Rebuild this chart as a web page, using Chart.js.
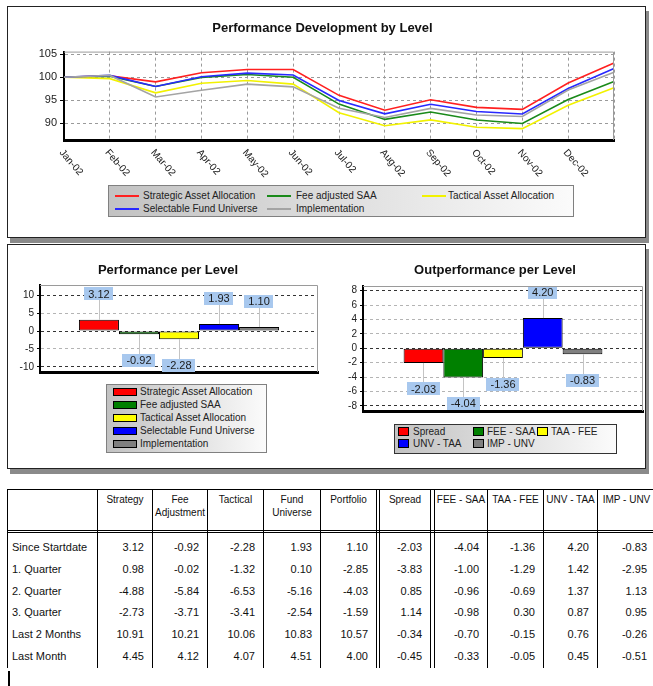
<!DOCTYPE html>
<html>
<head>
<meta charset="utf-8">
<script src="https://cdn.jsdelivr.net/npm/chart.js@4.4.1/dist/chart.umd.min.js"></script>
<style>
    html, body { margin: 0; padding: 0; background: #fff; }
    body { width: 653px; height: 686px; position: relative; overflow: hidden;
           font-family: "Liberation Sans", Arial, sans-serif; color: #111; }
    .panel { position: absolute; border: 1px solid #222; box-shadow: 3px 5px 0 #8a8a8a; background: #fff; }
    canvas { position: absolute; }
    .legend { position: absolute; border: 1px solid #808080;
              background: linear-gradient(to right, #c2c2c2, #fbfbfb); font-size: 10px; }
    .legend .txt { position: absolute; white-space: nowrap; line-height: 12px; color: #222; }
    .legend .sw { position: absolute; }
    .cell { position: absolute; white-space: nowrap; }
    .hd { font-size: 10px; line-height: 13px; text-align: center; }
    .num { font-size: 11px; line-height: 22px; text-align: right; }
    .lbl { font-size: 11px; line-height: 22px; text-align: left; }
    .ln { position: absolute; background: #000; }
</style>
</head>
<body>
<div class="panel" style="left:7px; top:6px; width:637px; height:230px;"></div>
<div class="panel" style="left:7px; top:244px; width:637px; height:223px;"></div>

<canvas id="devChart" width="653" height="240" style="left:0; top:0;"></canvas>
<canvas id="perfChart" width="330" height="140" style="left:0; top:244px;"></canvas>
<canvas id="outChart" width="323" height="180" style="left:330px; top:244px;"></canvas>

<div id="devLegend" class="legend" style="left:108px; top:185px; width:464px; height:30px;"></div>
<div id="perfLegend" class="legend" style="left:106px; top:384px; width:159px; height:67px;"></div>
<div id="outLegend" class="legend" style="left:394px; top:424px; width:221px; height:28px; border-color:#333;"></div>

<div id="table"></div>

<script>
// ---- data ----
const months = ['Jan-02', 'Feb-02', 'Mar-02', 'Apr-02', 'May-02', 'Jun-02', 'Jul-02', 'Aug-02', 'Sep-02', 'Oct-02', 'Nov-02', 'Dec-02', ''];
const levelNames = ['Strategic Asset Allocation', 'Fee adjusted SAA', 'Tactical Asset Allocation', 'Selectable Fund Universe', 'Implementation'];
const strategic = [100, 100.3, 99.0, 100.98, 101.7, 101.7, 96.05, 92.8, 95.1, 93.43, 92.98, 98.73, 103.12];
const feeAdjusted = [100, 100.2, 98.0, 99.98, 100.6, 100.0, 94.14, 90.8, 92.4, 90.65, 89.9, 95.16, 99.08];
const tactical = [100, 99.7, 96.6, 98.68, 99.3, 98.5, 92.24, 89.4, 90.7, 89.1, 88.79, 93.9, 97.72];
const fundUniverse = [100, 100.4, 98.0, 100.1, 100.9, 100.5, 94.93, 92.0, 94.1, 92.52, 91.97, 97.53, 101.93];
const implementation = [100, 100.4, 95.7, 97.15, 98.5, 97.9, 93.23, 91.2, 93.2, 91.75, 91.43, 97.21, 101.1];
const devTicks = [90, 95, 100, 105];

const perfValues = [3.12, -0.92, -2.28, 1.93, 1.10];
const perfTicks = [-10, -5, 0, 5, 10];

const spreadNames = ['Spread', 'FEE - SAA', 'TAA - FEE', 'UNV - TAA', 'IMP - UNV'];
const outValues = [-2.03, -4.04, -1.36, 4.20, -0.83];
const outTicks = [-8, -6, -4, -2, 0, 2, 4, 6, 8];

const tableColumns = ['Strategy', 'Fee\nAdjustment', 'Tactical', 'Fund\nUniverse', 'Portfolio', 'Spread', 'FEE - SAA', 'TAA - FEE', 'UNV - TAA', 'IMP - UNV'];
const tableRowLabels = ['Since Startdate', '1. Quarter', '2. Quarter', '3. Quarter', 'Last 2 Months', 'Last Month'];
const rowSince = perfValues.concat(outValues);
const rowQ1 = [0.98, -0.02, -1.32, 0.10, -2.85, -3.83, -1.00, -1.29, 1.42, -2.95];
const rowQ2 = [-4.88, -5.84, -6.53, -5.16, -4.03, 0.85, -0.96, -0.69, 1.37, 1.13];
const rowQ3 = [-2.73, -3.71, -3.41, -2.54, -1.59, 1.14, -0.98, 0.30, 0.87, 0.95];
const rowLast2 = [10.91, 10.21, 10.06, 10.83, 10.57, -0.34, -0.70, -0.15, 0.76, -0.26];
const rowLast1 = [4.45, 4.12, 4.07, 4.51, 4.00, -0.45, -0.33, -0.05, 0.45, -0.51];

const lineColors = ['#ff2020', '#1a8a1a', '#f2f200', '#2828ff', '#a4a4a4'];
const barColors = ['#ff0000', '#008000', '#ffff00', '#0000ff', '#808080'];

const FONT = '"Liberation Sans", Arial, sans-serif';
Chart.defaults.font.family = FONT;
Chart.defaults.color = '#222';

// light grey top/right frame of the plot area
const plotFrame = {
    id: 'plotFrame',
    afterDraw(chart) {
        const { ctx, chartArea: a } = chart;
        ctx.save();
        ctx.strokeStyle = '#9a9a9a';
        ctx.lineWidth = 1;
        ctx.beginPath();
        ctx.moveTo(a.left, a.top + 0.5);
        ctx.lineTo(a.right - 0.5, a.top + 0.5);
        ctx.lineTo(a.right - 0.5, a.bottom);
        ctx.stroke();
        ctx.restore();
    }
};

// month labels slanting down to the right
const slantedLabels = {
    id: 'slantedLabels',
    afterDraw(chart) {
        const { ctx, chartArea } = chart;
        const x = chart.scales.x;
        ctx.save();
        ctx.font = '10px ' + FONT;
        ctx.fillStyle = '#222';
        ctx.textAlign = 'left';
        ctx.textBaseline = 'middle';
        chart.data.labels.forEach((lbl, i) => {
            if (!lbl) return;
            ctx.save();
            ctx.translate(x.getPixelForValue(i) - 3, chartArea.bottom + 11);
            ctx.rotate(Math.PI / 4 + 0.07);
            ctx.fillText(lbl, 0, 0);
            ctx.restore();
        });
        ctx.restore();
    }
};

// blue value boxes with leader lines
const calloutLabels = {
    id: 'calloutLabels',
    afterDatasetsDraw(chart) {
        const ctx = chart.ctx;
        ctx.save();
        ctx.font = '11px ' + FONT;
        chart.data.datasets.forEach((ds, i) => {
            const bar = chart.getDatasetMeta(i).data[0];
            const v = ds.data[0];
            const ly = bar.y + (v >= 0 ? -26 : 26);
            ctx.strokeStyle = '#c4c4c4';
            ctx.lineWidth = 1;
            ctx.beginPath();
            ctx.moveTo(Math.round(bar.x) + 0.5, bar.y);
            ctx.lineTo(Math.round(bar.x) + 0.5, ly);
            ctx.stroke();
            const txt = v.toFixed(2);
            const w = ctx.measureText(txt).width + 8;
            const h = 13;
            ctx.fillStyle = '#a8c8ee';
            ctx.fillRect(Math.round(bar.x - w / 2), Math.round(ly - h / 2), Math.round(w), h);
            ctx.fillStyle = '#1a1a1a';
            ctx.textAlign = 'center';
            ctx.textBaseline = 'middle';
            ctx.fillText(txt, bar.x, ly + 1);
        });
        ctx.restore();
    }
};

// ---- Performance Development by Level ----
const devSeries = [strategic, feeAdjusted, tactical, fundUniverse, implementation];
new Chart(document.getElementById('devChart'), {
    type: 'line',
    data: {
        labels: months,
        datasets: levelNames.map((name, i) => ({
            label: name,
            data: devSeries[i],
            borderColor: lineColors[i],
            borderWidth: 1.6,
            pointRadius: 0,
            tension: 0,
            fill: false
        })).reverse()
    },
    options: {
        responsive: false,
        animation: false,
        layout: { padding: { left: 31, right: 39, top: 0, bottom: 100 } },
        plugins: {
            legend: { display: false },
            tooltip: { enabled: false },
            title: {
                display: true,
                text: 'Performance Development by Level',
                color: '#111',
                font: { size: 13, weight: 'bold' },
                padding: { top: 21, bottom: 15 }
            }
        },
        scales: {
            x: {
                offset: false,
                ticks: { display: false, autoSkip: false },
                grid: { color: '#9a9a9a', drawTicks: false },
                border: { color: '#000', width: 3, dash: [3, 3] },
                afterFit(s) { s.height = 0; }
            },
            y: {
                min: 86.3,
                max: 105.6,
                afterBuildTicks(s) { s.ticks = devTicks.map(v => ({ value: v })); },
                ticks: { font: { size: 11 }, padding: 3, color: '#222' },
                grid: { color: '#9a9a9a', tickLength: 4, tickColor: '#000' },
                border: { color: '#000', width: 2, dash: [3, 3] },
                afterFit(s) { s.width = 33; }
            }
        }
    },
    plugins: [plotFrame, slantedLabels]
});

// ---- bar charts ----
function barChart(id, title, names, values, ticks, min, max, pad, yWidth, catPct) {
    const major = [0, ticks[0], ticks[ticks.length - 1]];
    return new Chart(document.getElementById(id), {
        type: 'bar',
        data: {
            labels: [''],
            datasets: names.map((name, i) => ({
                label: name,
                data: [values[i]],
                backgroundColor: barColors[i],
                borderColor: '#000',
                borderWidth: 1,
                borderSkipped: false,
                barPercentage: 1,
                categoryPercentage: catPct
            }))
        },
        options: {
            responsive: false,
            animation: false,
            layout: { padding: pad },
            plugins: {
                legend: { display: false },
                tooltip: { enabled: false },
                title: {
                    display: true,
                    text: title,
                    color: '#111',
                    font: { size: 13, weight: 'bold' },
                    padding: { top: 19, bottom: pad.titleBottom }
                }
            },
            scales: {
                x: {
                    ticks: { display: false },
                    grid: { display: false },
                    border: { color: '#000', width: 3 },
                    afterFit(s) { s.height = 0; }
                },
                y: {
                    min: min,
                    max: max,
                    afterBuildTicks(s) { s.ticks = ticks.map(v => ({ value: v })); },
                    ticks: { font: { size: 10 }, padding: 3, color: '#222' },
                    grid: {
                        color: c => (c.tick && major.includes(c.tick.value)) ? '#333' : '#b4b4b4',
                        tickLength: 3,
                        tickColor: '#000'
                    },
                    border: { color: '#000', width: 2, dash: [3, 3] },
                    afterFit(s) { s.width = yWidth; }
                }
            }
        },
        plugins: [plotFrame, calloutLabels]
    });
}

barChart('perfChart', 'Performance per Level', levelNames, perfValues, perfTicks, -11.4, 12.8,
    { left: 18, right: 12, top: 0, bottom: 12, titleBottom: 6.4 }, 22, 0.72);
barChart('outChart', 'Outperformance per Level', spreadNames, outValues, outTicks, -8.7, 8.65,
    { left: 17, right: 10, top: 0, bottom: 13, titleBottom: 7.4 }, 16, 0.71);

// ---- legends ----
function addItem(box, swatch, text, sx, sy, sw, sh, tx) {
    const s = document.createElement('div');
    s.className = 'sw';
    Object.assign(s.style, swatch, { left: sx + 'px', top: sy + 'px', width: sw + 'px', height: sh + 'px' });
    box.appendChild(s);
    const t = document.createElement('div');
    t.className = 'txt';
    t.textContent = text;
    t.style.left = tx + 'px';
    t.style.top = (sy + sh / 2 - 6) + 'px';
    box.appendChild(t);
}

const devLegend = document.getElementById('devLegend');
const devCols = [[6, 34], [158, 187], [313, 339]];
levelNames.forEach((name, i) => {
    const [sx, tx] = devCols[i % 3];
    const sy = i < 3 ? 9 : 22;
    addItem(devLegend, { background: lineColors[i] }, name, sx, sy, 24, 1.5, tx);
});

const perfLegend = document.getElementById('perfLegend');
levelNames.forEach((name, i) => {
    addItem(perfLegend, { background: barColors[i], border: '1px solid #000', boxSizing: 'border-box' },
        name, 6, 3 + i * 13, 24, 8, 33);
});

const outLegend = document.getElementById('outLegend');
const outCols = [[3, 18], [78, 92], [142, 156]];
spreadNames.forEach((name, i) => {
    const [sx, tx] = outCols[i % 3];
    const sy = i < 3 ? 2 : 14;
    addItem(outLegend, { background: barColors[i], border: '1px solid #000', boxSizing: 'border-box' },
        name, sx, sy, 11, 9, tx);
});

// ---- table ----
const tableRows = [rowSince, rowQ1, rowQ2, rowQ3, rowLast2, rowLast1];
const colEdges = [[97, 152], [152, 207], [207, 263], [263, 320], [320, 376], [379, 430], [434, 487], [487, 543], [543, 597], [597, 655]];
const table = document.getElementById('table');

function addLine(l, t, w, h) {
    const d = document.createElement('div');
    d.className = 'ln';
    Object.assign(d.style, { left: l + 'px', top: t + 'px', width: w + 'px', height: h + 'px' });
    table.appendChild(d);
}
function addCell(cls, text, l, t, w, extra) {
    const d = document.createElement('div');
    d.className = 'cell ' + cls;
    d.innerHTML = text.split('\n').join('<br>');
    Object.assign(d.style, { left: l + 'px', top: t + 'px', width: w + 'px' }, extra || {});
    table.appendChild(d);
}

addLine(7, 489, 648, 1);
addLine(7, 530, 648, 1);
addLine(7, 532, 648, 1);
addLine(7, 489, 1, 179);
addLine(8, 671, 2, 15);
[97, 152, 207, 263, 320, 376, 379, 430, 434, 487, 543, 597].forEach(x => addLine(x, 489, 1, 179));

tableColumns.forEach((name, c) => {
    const [a, b] = colEdges[c];
    addCell('hd', name, a + 1, 493, b - a - 1);
});
tableRowLabels.forEach((name, r) => {
    const top = 536 + r * 21.8;
    addCell('lbl', name, 12, top, 84);
    tableRows[r].forEach((v, c) => {
        const [a, b] = colEdges[c];
        addCell('num', v.toFixed(2), a + 1, top, b - a - 9);
    });
});
</script>
</body>
</html>
